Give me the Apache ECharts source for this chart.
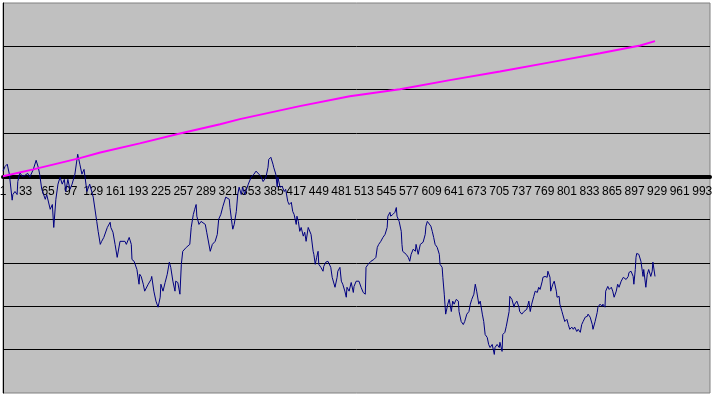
<!DOCTYPE html>
<html>
<head>
<meta charset="utf-8">
<title>chart</title>
<script src="https://cdn.jsdelivr.net/npm/echarts@6/dist/echarts.min.js"></script>
<style>
  html, body { margin: 0; padding: 0; background: #ffffff; }
  #main { width: 713px; height: 398px; }
</style>
</head>
<body>
<div id="main"></div>
<script>
// category count on the x axis (labels 1 .. 1004, every 32nd shown)
var catCount = 1004
var labelStep = 32

// blue series: category label -> value
var blueX = [1, 4, 7, 10, 14, 15, 18, 21, 22, 25, 28, 32, 36, 39, 44, 48, 51, 53, 56, 61, 63, 68, 71, 73, 76, 79, 82, 85, 88, 90, 93, 96, 99, 103, 107, 110, 113, 116, 120, 124, 129, 134, 136, 139, 141, 144, 149, 153,
  154, 157, 160, 163, 167, 168, 174, 176, 180, 183, 184, 187, 188, 191, 194, 195, 197, 200, 202, 207, 211, 212, 215, 218, 221, 224, 225, 228, 231, 234, 237, 239, 242, 245, 246, 249, 252, 254, 256, 261, 266, 268, 271, 273, 275, 276, 279, 282, 288, 290, 295, 298, 302, 305,
  307, 310, 313, 317, 322, 323, 326, 327, 329, 332, 334, 336, 339, 341, 344, 349, 353, 357, 360, 364, 367, 370, 371, 374, 377, 378, 381, 384, 385, 388, 390, 391, 394, 397, 400, 402, 405, 407, 410, 412, 414, 417, 418, 420, 422, 424, 427, 429, 431, 434, 435, 438, 441, 442, 444, 446, 448, 449, 452, 455, 456, 459, 462,
  463, 466, 468, 472, 475, 476, 479, 481, 483, 486, 488, 489, 492, 495, 498, 499, 502, 503, 506, 509, 512, 515, 516, 519, 523, 527, 530, 532, 534, 537, 540, 543, 546, 547, 550, 551, 554, 557, 559, 560, 563, 566, 567, 568, 573, 576, 578, 580, 583, 586, 587, 590, 593, 595, 597, 600, 601, 603, 605, 608, 610, 612, 614,
  617, 620, 621, 624, 625, 627, 628, 629, 632, 634, 637, 639, 641, 644, 647, 648, 651, 654, 656, 659, 662, 664, 666, 669, 671, 673, 676, 678, 681, 683, 685, 688, 690, 692, 695, 698, 699, 702, 705, 706, 709, 710, 713, 715, 717, 719, 720, 723, 726, 727, 730, 733, 734, 737, 740, 742, 744, 747, 749, 751, 754, 756, 759, 761, 763, 766,
  767, 770, 773, 774, 777, 778, 781, 783, 786, 787, 790, 791, 794, 795, 798, 801, 803, 805, 808, 810, 812, 815, 817, 820, 822, 824, 827, 830, 831, 834, 837, 838, 841, 844, 845, 848, 851, 852, 855, 856, 859, 861, 864, 866, 868, 871, 873, 875, 878, 881, 882, 885, 888, 889, 892, 895, 896, 898, 899, 900, 903, 906, 908, 909, 910, 913, 915, 917, 920, 922, 923, 926]
var blueY = [1.2, 2.3, 2.8, 0.5, -5.5, -4.2, -3.5, -4.2, -1.2, 0.9, 0, 0.2, 0.7, -0.2, 1.6, 3.7, 2.1, 0.5, -3.0, -5.3, -4.2, -7.6, -6.5, -11.8, -5.3, -1.8, -0.2, -1.8, -0.7, -3.5, -0.7, -3.0, -1.8, 0.5, 5.1, 2.8, 0.5, 1.6, -3.5, -1.8, -4.8, -10.4, -12.7, -15.7, -15.0, -14.1, -11.8, -10.6,
  -11.8, -12.9, -15.7, -18.7, -15.0, -15.2, -15.0, -15.7, -14.1, -15.7, -19.2, -19.6, -19.2, -21.5, -24.9, -22.6, -23.1, -24.9, -26.5, -24.9, -23.8, -23.1, -26.5, -28.8, -30.2, -27.9, -24.9, -26.5, -24.5, -22.6, -19.8, -21.0, -24.2, -26.5, -24.2, -24.5, -27.2, -20.3, -17.3, -16.4, -15.7, -11.8, -8.8, -7.6, -6.5, -9.2, -11.1, -10.4, -11.1, -12.9, -17.3, -15.7, -15.0, -13.4,
  -9.9, -8.8, -6.9, -4.8, -5.3, -7.2, -11.1, -12.2, -11.1, -8.1, -4.2, -2.5, -4.2, -2.5, -4.2, -1.8, -0.2, 0.5, 1.2, 0.5, 0, -1.2, -1.4, -0.2, 2.1, 3.9, 4.4, 2.8, 2.1, 0.5, -2.5, -0.2, -2.5, -2.3, -3.5, -3.0, -5.8, -6.5, -6.0, -8.1, -8.8, -11.1, -9.2, -10.4, -12.7, -11.8, -13.8, -12.9, -15.0, -11.8, -11.5, -13.4, -17.3, -18.0, -20.3, -18.7, -17.3, -20.3, -21.0, -21.9, -20.8, -19.8, -19.6,
  -19.8, -21.0, -23.3, -25.6, -23.3, -21.9, -21.0, -24.2, -24.9, -26.5, -27.9, -25.6, -26.5, -24.5, -26.8, -25.4, -24.2, -23.8, -24.2, -25.6, -26.8, -27.2, -21.0, -20.3, -19.6, -19.2, -18.7, -16.4, -15.7, -15.0, -14.1, -13.4, -11.8, -9.2, -8.3, -9.2, -8.8, -8.3, -7.2, -9.2, -10.4, -12.7, -15.7, -17.3, -18.0, -18.7, -19.6, -18.0, -16.8, -17.3, -15.7, -18.0, -15.7, -15.7, -15.2, -13.4, -11.5, -10.4, -10.6, -11.5, -12.7, -14.1, -15.7,
  -16.4, -18.0, -20.3, -21.0, -23.3, -27.2, -29.5, -31.8, -29.5, -28.4, -31.2, -28.8, -29.5, -28.4, -28.8, -31.2, -33.5, -34.2, -33.5, -31.8, -31.2, -29.5, -28.4, -27.2, -24.9, -26.5, -29.5, -28.8, -31.8, -33.5, -36.5, -37.2, -38.8, -39.5, -38.8, -41.1, -39.5, -38.8, -39.5, -38.3, -40.4, -36.5, -36.0, -34.6, -34.2, -31.2, -27.7, -28.4, -30.2, -29.5, -28.8, -30.2, -31.2, -31.8, -31.2, -31.4, -30.7, -28.8, -31.2, -29.5, -27.7, -26.5, -26.8, -25.6, -26.1, -24.2,
  -23.3, -23.1, -23.3, -21.9, -23.3, -26.5, -24.9, -24.2, -26.5, -27.9, -27.7, -29.5, -31.2, -31.8, -33.5, -33.0, -34.2, -35.3, -34.8, -35.3, -34.8, -35.8, -35.3, -36.0, -34.2, -33.5, -32.5, -32.3, -31.8, -32.5, -34.2, -35.3, -33.5, -31.4, -30.2, -29.5, -30.0, -29.5, -30.2, -26.5, -25.4, -26.1, -25.6, -26.5, -27.9, -26.5, -24.9, -25.6, -24.2, -23.3, -23.1, -23.8, -23.1, -22.2, -21.9, -23.1, -24.9, -21.5, -18.7, -17.8, -18.0, -19.6, -21.9, -23.1, -21.5, -25.6, -22.6, -21.5, -23.1, -21.9, -19.8, -23.1]

// magenta series
var pinkX = [1, 44, 110, 139, 195, 252, 309, 337, 422, 493, 564, 635, 706, 777, 848, 905, 926]
var pinkY = [0, 1.6, 4.2, 5.5, 7.6, 9.9, 12.0, 13.2, 16.2, 18.5, 20.1, 22.2, 24.2, 26.3, 28.4, 30.2, 31.2]

// y axis range (no labels shown)
var yMin = -50
var yMax = 40
var yStep = 10

var categories = []
for (var i = 1; i <= catCount; i++) {
  categories.push(String(i))
}

function toPairs(xs, ys) {
  var out = []
  for (let i = 0; i < xs.length; i++) {
    out.push([String(xs[i]), ys[i]])
  }
  return out
}

var gridTop = 3
var gridBottom = 5
var plotH = 398 - gridTop - gridBottom
// shift the category axis up to the zero line
var zeroOffset = -plotH * (0 - yMin) / (yMax - yMin)

var chart = echarts.init(document.getElementById('main'), null, { renderer: 'canvas' })
var option = {
  animation: false,
  grid: {
    left: 3,
    right: 3,
    top: gridTop,
    bottom: gridBottom,
    outerBoundsMode: 'none',
    containLabel: false,
    show: true,
    backgroundColor: '#C0C0C0',
    borderColor: '#808080',
    borderWidth: 1
  },
  xAxis: {
    type: 'category',
    data: categories,
    boundaryGap: false,
    offset: zeroOffset,
    axisLine: { onZero: false, lineStyle: { color: '#000000', width: 4 } },
    axisTick: { show: false },
    axisLabel: {
      interval: labelStep - 1,
      hideOverlap: false,
      color: '#000000',
      fontFamily: 'Liberation Sans, Arial, sans-serif',
      fontSize: 12,
      margin: 9
    },
    splitLine: { show: false }
  },
  yAxis: {
    type: 'value',
    min: yMin,
    max: yMax,
    interval: yStep,
    axisLine: { show: true, lineStyle: { color: '#000000', width: 1 } },
    axisTick: { show: false },
    axisLabel: { show: false },
    splitLine: {
      show: true,
      showMinLine: false,
      showMaxLine: false,
      lineStyle: { color: '#000000', width: 1 }
    }
  },
  series: [{
    type: 'line',
    data: toPairs(blueX, blueY),
    showSymbol: false,
    lineStyle: { color: '#000080', width: 1 },
    z: 3
  }, {
    type: 'line',
    data: toPairs(pinkX, pinkY),
    showSymbol: false,
    lineStyle: { color: '#FF00FF', width: 2 },
    z: 4
  }]
}
chart.setOption(option)
</script>
</body>
</html>
